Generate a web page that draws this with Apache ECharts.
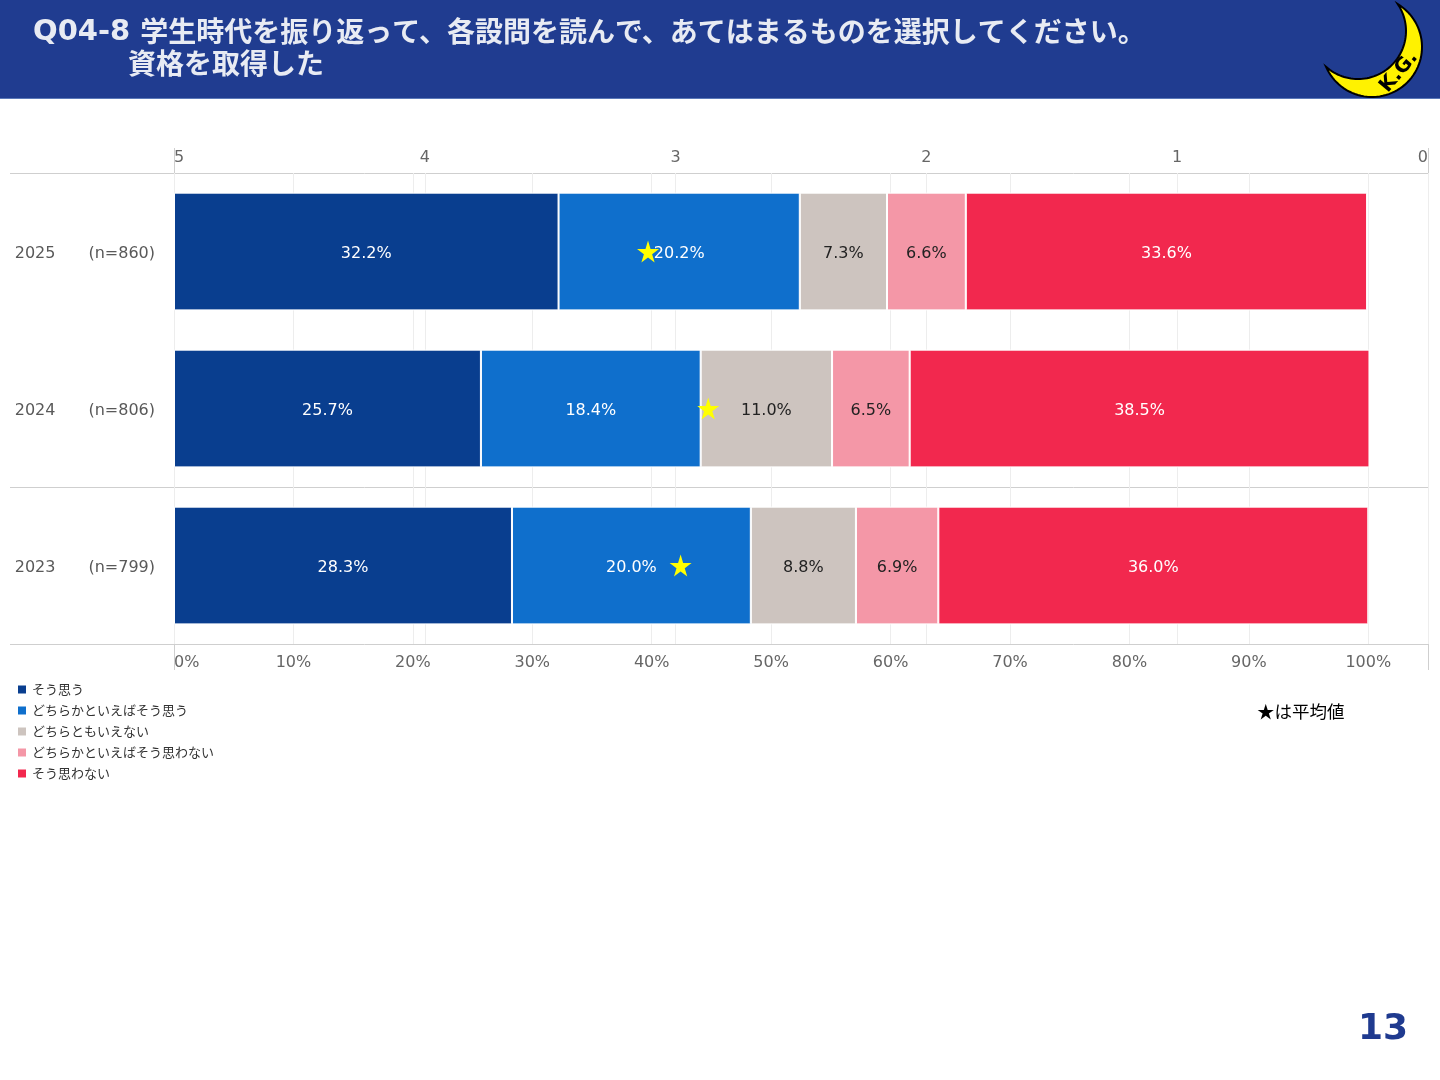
<!DOCTYPE html>
<html>
<head>
<meta charset="utf-8">
<title>Q04-8 資格を取得した</title>
<script src="https://cdn.jsdelivr.net/npm/echarts@6/dist/echarts.min.js"></script>
<style>
  html, body { margin: 0; padding: 0; background: #fff; }
  #main { width: 1440px; height: 1080px; }
</style>
</head>
<body>
<div id="main"></div>
<script>
// data
const years = ['2025', '2024', '2023']
const sampleSizes = ['n=860', 'n=806', 'n=799']
const answerNames = ['そう思う', 'どちらかといえばそう思う', 'どちらともいえない', 'どちらかといえばそう思わない', 'そう思わない']
const soOmou = [32.2, 25.7, 28.3]
const dochiraOmou = [20.2, 18.4, 20.0]
const dochiraMo = [7.3, 11.0, 8.8]
const dochiraOmowanai = [6.6, 6.5, 6.9]
const soOmowanai = [33.6, 38.5, 36.0]
const averages = [3.11, 2.87, 2.98] // star positions on the 5..0 scale
const percentTicks = [0, 10, 20, 30, 40, 50, 60, 70, 80, 90, 100]

const colors = ['#093e8f', '#0f6fcc', '#cdc4bf', '#f497a7', '#f2284e']
const labelColors = ['#ffffff', '#ffffff', '#222222', '#222222', '#ffffff']
const seriesValues = [soOmou, dochiraOmou, dochiraMo, dochiraOmowanai, soOmowanai]

const chart = echarts.init(document.getElementById('main'))
const font = '"DejaVu Sans", "Noto Sans CJK JP", sans-serif'
const jpFont = '"Noto Sans CJK JP", sans-serif'
const lineColor = '#cfcfcf'
const titleColor = '#e8ebf3'

const barSeries = answerNames.map((name, i) => ({
    name: name,
    type: 'bar',
    stack: 'total',
    xAxisIndex: 0,
    barCategoryGap: '25%',
    data: seriesValues[i],
    itemStyle: { color: colors[i], borderColor: '#fff', borderWidth: 1 },
    label: {
        show: true,
        position: 'inside',
        offset: [0, 2],
        color: labelColors[i],
        fontFamily: font,
        fontSize: 16,
        formatter: p => p.value.toFixed(1) + '%'
    },
    emphasis: { disabled: true }
}))

const starPath = 'path://M50,0 L61,35 L98,35 L68,57 L79,91 L50,70 L21,91 L32,57 L2,35 L39,35 Z'

function hLine(y) {
    return { type: 'line', shape: { x1: 10, y1: y, x2: 1428, y2: y }, style: { stroke: lineColor, lineWidth: 1 }, silent: true }
}
function vLine(x) {
    return { type: 'line', shape: { x1: x, y1: 148, x2: x, y2: 670 }, style: { stroke: lineColor, lineWidth: 1 }, silent: true }
}

// crescent logo outline: outer circle minus an offset inner circle
function arcPoints(cx, cy, r, from, to, mid) {
    let span = to - from
    while (span < 0) span += Math.PI * 2
    let test = mid - from
    while (test < 0) test += Math.PI * 2
    if (test > span) span -= Math.PI * 2
    const pts = []
    for (let k = 0; k <= 60; k++) {
        const t = from + span * k / 60
        pts.push([cx + r * Math.cos(t), cy + r * Math.sin(t)])
    }
    return pts
}
function crescentPoints(cx1, cy1, r1, cx2, cy2, r2) {
    const dx = cx2 - cx1, dy = cy2 - cy1
    const d = Math.sqrt(dx * dx + dy * dy)
    const a = (r1 * r1 - r2 * r2 + d * d) / (2 * d)
    const h = Math.sqrt(r1 * r1 - a * a)
    const ux = dx / d, uy = dy / d
    const p1 = [cx1 + a * ux - h * uy, cy1 + a * uy + h * ux]
    const p2 = [cx1 + a * ux + h * uy, cy1 + a * uy - h * ux]
    const mid = Math.atan2(-uy, -ux)
    const outer = arcPoints(cx1, cy1, r1,
        Math.atan2(p1[1] - cy1, p1[0] - cx1), Math.atan2(p2[1] - cy1, p2[0] - cx1), mid)
    const inner = arcPoints(cx2, cy2, r2,
        Math.atan2(p2[1] - cy2, p2[0] - cx2), Math.atan2(p1[1] - cy2, p1[0] - cx2), mid)
    return outer.concat(inner)
}

const option = {
    backgroundColor: '#fff',
    animation: false,
    textStyle: { fontFamily: font },
    grid: { left: 174, right: 12, top: 173, bottom: 436 },
    legend: {
        data: answerNames,
        orient: 'vertical',
        left: 16,
        top: 683,
        padding: 0,
        icon: 'rect',
        itemWidth: 10,
        itemHeight: 10,
        itemGap: 8,
        textStyle: { fontSize: 13, color: '#333', fontFamily: jpFont }
    },
    xAxis: [
        {
            type: 'value',
            position: 'bottom',
            min: 0,
            max: 105,
            interval: 10,
            axisLine: { show: false },
            axisTick: { show: false },
            splitLine: { show: true, lineStyle: { color: '#ededed' } },
            axisLabel: {
                color: '#666',
                fontSize: 16,
                fontFamily: font,
                margin: 11,
                alignMinLabel: 'left',
                formatter: v => percentTicks.indexOf(v) >= 0 ? v + '%' : ''
            }
        },
        {
            type: 'value',
            position: 'top',
            min: 0,
            max: 5,
            interval: 1,
            inverse: true,
            axisLine: { show: false },
            axisTick: { show: false },
            splitLine: { show: true, lineStyle: { color: '#ededed' } },
            axisLabel: {
                color: '#666',
                fontSize: 16,
                fontFamily: font,
                margin: 7,
                alignMinLabel: 'right',
                alignMaxLabel: 'left'
            }
        }
    ],
    yAxis: {
        type: 'category',
        inverse: true,
        data: years,
        axisLine: { show: false },
        axisTick: { show: false },
        splitLine: { show: false },
        axisLabel: {
            margin: 19,
            formatter: (v, i) => '{y|' + v + '}{n|(' + sampleSizes[i] + ')}',
            rich: {
                y: { fontSize: 16, color: '#595959', fontFamily: font, padding: [4, 33, 0, 0] },
                n: { fontSize: 16, color: '#595959', fontFamily: font, padding: [4, 0, 0, 0] }
            }
        }
    },
    series: barSeries.concat([{
        name: '平均値',
        type: 'scatter',
        xAxisIndex: 1,
        symbol: starPath,
        symbolSize: 22,
        z: 10,
        itemStyle: { color: '#ffff00', opacity: 1 },
        data: averages.map((a, i) => [a, years[i]]),
        emphasis: { disabled: true }
    }]),
    graphic: [
        { type: 'rect', shape: { x: 0, y: 0, width: 1440, height: 98 }, style: { fill: '#203c90' }, silent: true },
        { type: 'line', shape: { x1: 0, y1: 98.5, x2: 1440, y2: 98.5 }, style: { stroke: '#5a78b8', lineWidth: 1 }, silent: true },
        {
            type: 'text', x: 33, y: 31,
            style: {
                text: '{q|Q04-8 }{j|学生時代を振り返って、各設問を読んで、あてはまるものを選択してください。}',
                verticalAlign: 'middle',
                rich: {
                    q: { fill: titleColor, font: 'bold 29px "DejaVu Sans", sans-serif', lineHeight: 36, padding: [2, 0, 0, 0] },
                    j: { fill: titleColor, font: 'bold 28px ' + jpFont, lineHeight: 36 }
                }
            }
        },
        {
            type: 'text', x: 128, y: 63,
            style: { text: '資格を取得した', fill: titleColor, font: 'bold 28px ' + jpFont, verticalAlign: 'middle' }
        },
        {
            type: 'polygon',
            shape: { points: crescentPoints(1372, 47, 50, 1358, 31, 48) },
            style: { fill: '#fff200', stroke: '#000', lineWidth: 2 },
            silent: true
        },
        {
            type: 'text', x: 1399, y: 72, rotation: 0.87,
            style: { text: 'K.G.', fill: '#000', font: 'bold 20px "DejaVu Sans", sans-serif', align: 'center', verticalAlign: 'middle' },
            silent: true
        },
        hLine(173.5), hLine(487.5), hLine(644.5),
        vLine(174.5), vLine(1428.5),
        {
            type: 'text', x: 1257, y: 703,
            style: { text: '★は平均値', fill: '#000', font: '17.5px ' + jpFont }
        },
        {
            type: 'text', x: 1358, y: 1012,
            style: { text: '13', fill: '#1f3a8f', font: 'bold 36px "DejaVu Sans", sans-serif' }
        }
    ]
}

chart.setOption(option)
</script>
</body>
</html>
